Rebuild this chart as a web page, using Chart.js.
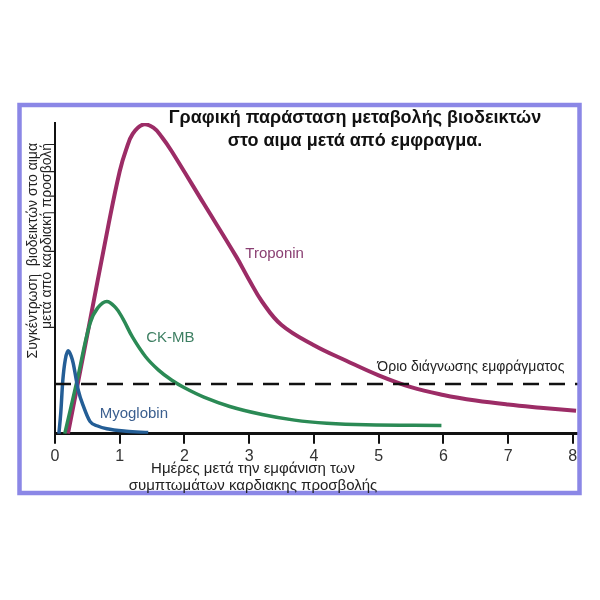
<!DOCTYPE html>
<html>
<head>
<meta charset="utf-8">
<style>
  html, body { margin: 0; padding: 0; background: #ffffff; }
  #wrap { width: 600px; height: 600px; }
</style>
<script src="https://cdn.jsdelivr.net/npm/chart.js@4.4.1/dist/chart.umd.min.js"></script>
</head>
<body>
<div id="wrap"><canvas id="c" width="600" height="600"></canvas></div>
<script>
// ---- data ----
const xTicks = [0, 1, 2, 3, 4, 5, 6, 7, 8];

const troponinX = [0.2, 0.5, 0.82, 1.0, 1.1, 1.2, 1.36, 1.52, 1.65, 1.8, 2.3, 2.8, 3.0, 3.2, 3.5, 4.0, 4.5, 5.0, 5.5, 6.0, 6.5, 7.0, 7.5, 8.05];
const troponinY = [0, 32, 66.6, 84.5, 91.5, 96.5, 99.5, 98.5, 95.5, 91, 74, 57, 49.5, 42.5, 35, 28.5, 23.5, 18.8, 15, 12.5, 10.7, 9.4, 8.4, 7.4];

const ckmbX = [0.15, 0.34, 0.54, 0.66, 0.8, 0.94, 1.05, 1.2, 1.4, 1.6, 1.8, 2.0, 2.3, 2.7, 3.2, 3.7, 4.2, 4.8, 5.97];
const ckmbY = [0, 17, 35.5, 40.5, 42.6, 40.5, 37, 31, 24.8, 20.5, 17.3, 14.8, 11.8, 8.8, 6.2, 4.4, 3.4, 2.9, 2.7];

const myoX = [0.06, 0.09, 0.12, 0.16, 0.205, 0.25, 0.28, 0.36, 0.44, 0.54, 0.66, 0.8, 1.1, 1.44];
const myoY = [0, 7, 17, 24, 26.7, 25, 22.8, 14, 8.8, 4, 2.5, 1.6, 0.8, 0.4];

const thresholdX = [0, 8.08];
const thresholdY = [16, 16];

const seriesNames = ['Troponin', 'CK-MB', 'Myoglobin'];
const thresholdLabel = 'Όριο διάγνωσης εμφράγματος';
const titleLines = ['Γραφική παράσταση μεταβολής βιοδεικτών', 'στο αιμα μετά από εμφραγμα.'];
const xTitleLines = ['Ημέρες μετά την εμφάνιση των', 'συμπτωμάτων καρδιακης προσβολής'];
const yTitleLines = ['Συγκέντρωση  βιοδεικτών στο αιμα', 'μετά από καρδιακή προσβολή'];

// ---- helpers ----
const pts = (xs, ys) => xs.map((x, i) => ({ x: x, y: ys[i] }));
const FONT = "'Liberation Sans', Arial, sans-serif";

// label anchors in data space (left edge, vertical middle)
const seriesLabelAnchors = [
  { x: 2.94, y: 58.0, color: '#8a3f72', size: 15 },
  { x: 1.41, y: 31.0, color: '#3d7f62', size: 15 },
  { x: 0.69, y: 6.5, color: '#3b5f8f', size: 15 }
];
const thresholdAnchor = { x: 4.98, y: 21.3, color: '#222222', size: 14 };

const decorPlugin = {
  id: 'decor',
  beforeDraw(chart) {
    const ctx = chart.ctx;
    ctx.save();
    ctx.fillStyle = '#ffffff';
    ctx.fillRect(0, 0, chart.width, chart.height);
    ctx.restore();
  },
  afterDraw(chart) {
    const ctx = chart.ctx;
    const xs = chart.scales.x, ys = chart.scales.y;
    ctx.save();
    // frame
    ctx.strokeStyle = '#8b87e6';
    ctx.lineWidth = 4.5;
    ctx.strokeRect(19.5, 105, 560, 388);

    // title
    ctx.fillStyle = '#111111';
    ctx.textAlign = 'center';
    ctx.textBaseline = 'middle';
    ctx.font = 'bold 18px ' + FONT;
    ctx.fillText(titleLines[0], 355, 118);
    ctx.fillText(titleLines[1], 355, 141);

    // series labels
    ctx.textAlign = 'left';
    seriesNames.forEach((name, i) => {
      const a = seriesLabelAnchors[i];
      ctx.fillStyle = a.color;
      ctx.font = a.size + 'px ' + FONT;
      ctx.fillText(name, xs.getPixelForValue(a.x), ys.getPixelForValue(a.y));
    });
    ctx.fillStyle = thresholdAnchor.color;
    ctx.font = thresholdAnchor.size + 'px ' + FONT;
    ctx.fillText(thresholdLabel, xs.getPixelForValue(thresholdAnchor.x), ys.getPixelForValue(thresholdAnchor.y));

    // x-axis title
    ctx.fillStyle = '#222222';
    ctx.textAlign = 'center';
    ctx.font = '15px ' + FONT;
    ctx.fillText(xTitleLines[0], 253, 469);
    ctx.fillText(xTitleLines[1], 253, 486);

    // y-axis title (rotated)
    ctx.font = '14px ' + FONT;
    ctx.textAlign = 'right';
    ctx.translate(33, 143);
    ctx.rotate(-Math.PI / 2);
    ctx.fillText(yTitleLines[0], 0, 0);
    ctx.fillText(yTitleLines[1], 0, 14);
    ctx.restore();
  }
};

new Chart(document.getElementById('c'), {
  type: 'line',
  data: {
    datasets: [
      { label: 'threshold', data: pts(thresholdX, thresholdY), borderColor: '#111111', borderWidth: 2.5, borderDash: [16, 10], pointRadius: 0, tension: 0 },
      { label: seriesNames[2], data: pts(myoX, myoY), borderColor: '#245e96', borderWidth: 3.5, pointRadius: 0, cubicInterpolationMode: 'monotone' },
      { label: seriesNames[1], data: pts(ckmbX, ckmbY), borderColor: '#2b8a55', borderWidth: 3.5, pointRadius: 0, tension: 0.4 },
      { label: seriesNames[0], data: pts(troponinX, troponinY), borderColor: '#9c2c66', borderWidth: 4, pointRadius: 0, tension: 0.4 }
    ]
  },
  options: {
    responsive: false,
    animation: false,
    devicePixelRatio: 1,
    layout: { padding: { left: 55, right: 22, top: 123, bottom: 131 } },
    plugins: { legend: { display: false }, title: { display: false }, tooltip: { enabled: false } },
    scales: {
      x: {
        type: 'linear',
        min: 0,
        max: 8.08,
        afterBuildTicks(scale) {
          scale.ticks = xTicks.map(v => ({ value: v }));
        },
        ticks: { stepSize: 1, includeBounds: false, color: '#333333', font: { size: 16, family: FONT }, padding: 3, maxRotation: 0, autoSkip: false },
        grid: { display: true, drawOnChartArea: false, drawTicks: true, tickLength: 10, color: '#111111', lineWidth: 2 },
        border: { display: true, color: '#111111', width: 3 }
      },
      y: {
        type: 'linear',
        min: 0,
        max: 100,
        ticks: { display: false },
        grid: { display: false, drawTicks: false },
        border: { display: true, color: '#111111', width: 2 }
      }
    }
  },
  plugins: [decorPlugin]
});
</script>
</body>
</html>
